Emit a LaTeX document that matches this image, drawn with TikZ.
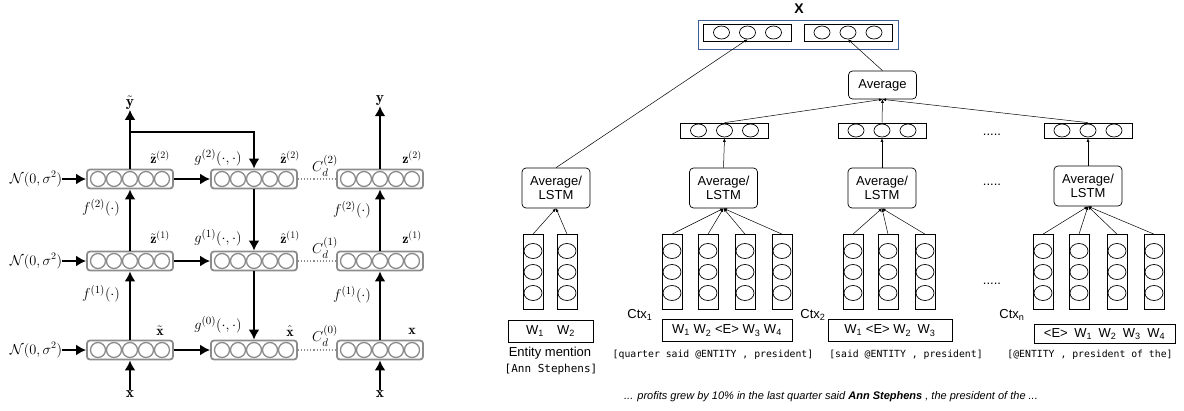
\documentclass[tikz,border=0pt]{standalone}
\usepackage{amsmath,amssymb}
\usepackage{fontspec}
\newfontfamily\arialfont{Liberation Sans}
\newfontfamily\codefont{DejaVu Sans Mono}
\usepackage{tikz}
\usetikzlibrary{arrows.meta,positioning,calc,shapes.geometric}
\definecolor{layergray}{RGB}{140,140,140}
\definecolor{xblue}{RGB}{62,92,150}

\begin{document}
\begin{tikzpicture}[x=1pt,y=-1pt,
 layer/.style={draw=layergray,line width=1.8pt,rounded corners=3pt,
               minimum width=86pt,minimum height=19pt,inner sep=0pt},
 unit/.style={circle,draw=layergray,line width=1.3pt,fill=white,
              minimum size=15pt,inner sep=0pt},
 fat/.style={-{Latex[length=10pt,width=11pt]},line width=2.6pt},
 dotlink/.style={draw=layergray,dotted,line width=1.1pt},
 lbl/.style={inner sep=0pt,font=\fontsize{15.5}{17}\selectfont},
 zlbl/.style={inner sep=0pt,font=\fontsize{14}{16}\selectfont},
 vec/.style={draw,line width=0.7pt,minimum width=88pt,minimum height=16pt,inner sep=0pt},
 cell/.style={ellipse,draw,line width=0.7pt,minimum width=16pt,minimum height=13pt,inner sep=0pt},
 wcol/.style={draw,line width=0.7pt,minimum width=20pt,minimum height=75pt,inner sep=0pt},
 agg/.style={draw,rounded corners=4pt,line width=0.7pt,minimum width=68pt,
             minimum height=40pt,align=center,inner sep=1pt,
             font=\arialfont\fontsize{13}{14}\selectfont},
 wbox/.style={draw,line width=0.7pt,minimum height=22pt,inner sep=0pt,
              font=\arialfont\fontsize{13}{14}\selectfont},
 rtxt/.style={inner sep=0pt,font=\arialfont\fontsize{13}{15}\selectfont},
 code/.style={inner sep=0pt,font=\codefont\fontsize{9.8}{11}\selectfont},
 link/.style={-{Latex[length=3.5pt,width=3pt]},line width=0.5pt}]
 \useasboundingbox (0,0) rectangle (1184,410);

 % ladder network (left)
 \foreach \n/\px/\py in {a0/130/350,a1/130/261,a2/130/179,
                         b0/254/350,b1/254/261,b2/254/179,
                         c0/380/350,c1/380/261,c2/380/179} {
   \node[layer] (\n) at (\px,\py) {};
   \foreach \k in {-2,...,2}
     \node[unit] (\n-\k) at ($(\n)+(\k*16,0)$) {};
 }
 \foreach \r/\py in {0/350,1/261,2/179}
   \node[lbl,font=\fontsize{14}{16}\selectfont] (noise\r) at (36,\py) {$\mathcal{N}(0,\sigma^2)$};
 \node[lbl] (yt) at (130,103) {$\tilde{\mathbf{y}}$};
 \node[lbl] (yc) at (380,101) {$\mathbf{y}$};
 \node[lbl] (xa) at (130,394) {$\mathbf{x}$};
 \node[lbl] (xc) at (380,394) {$\mathbf{x}$};
 \coordinate (skip) at (254,132);

 \node[zlbl] (za2) at (160,157) {$\tilde{\mathbf{z}}^{(2)}$};
 \node[zlbl] (zb2) at (290,157) {$\hat{\mathbf{z}}^{(2)}$};
 \node[zlbl] (zc2) at (412,157) {$\mathbf{z}^{(2)}$};
 \node[zlbl] (za1) at (160,237) {$\tilde{\mathbf{z}}^{(1)}$};
 \node[zlbl] (zb1) at (290,237) {$\hat{\mathbf{z}}^{(1)}$};
 \node[zlbl] (zc1) at (412,237) {$\mathbf{z}^{(1)}$};
 \node[zlbl] (za0) at (160,331) {$\tilde{\mathbf{x}}$};
 \node[zlbl] (zb0) at (290,331) {$\hat{\mathbf{x}}$};
 \node[zlbl] (zc0) at (412,331) {$\mathbf{x}$};
 \node[lbl] (g2) at (218,158) {$g^{(2)}(\cdot,\cdot)$};
 \node[lbl] (g1) at (218,238) {$g^{(1)}(\cdot,\cdot)$};
 \node[lbl] (g0) at (218,325) {$g^{(0)}(\cdot,\cdot)$};
 \node[lbl] (cd2) at (325,166) {$C_d^{(2)}$};
 \node[lbl] (cd1) at (325,248) {$C_d^{(1)}$};
 \node[lbl] (cd0) at (325,336) {$C_d^{(0)}$};
 \node[lbl] (fa2) at (101,208) {$f^{(2)}(\cdot)$};
 \node[lbl] (fa1) at (101,294) {$f^{(1)}(\cdot)$};
 \node[lbl] (fc2) at (352,210) {$f^{(2)}(\cdot)$};
 \node[lbl] (fc1) at (352,295) {$f^{(1)}(\cdot)$};

 \foreach \r in {0,1,2} {
   \draw[fat] (noise\r) -- (a\r);
   \draw[fat] (a\r) -- (b\r);
   \draw[dotlink] (b\r) -- (c\r);
 }
 \draw[fat] (xa) -- (a0);
 \draw[fat] (a0) -- (a1);
 \draw[fat] (a1) -- (a2);
 \draw[fat] (a2) -- (yt);
 \draw[fat] (a2.north |- skip) -- (skip) -- (b2);
 \draw[fat] (b2) -- (b1);
 \draw[fat] (b1) -- (b0);
 \draw[fat] (xc) -- (c0);
 \draw[fat] (c0) -- (c1);
 \draw[fat] (c1) -- (c2);
 \draw[fat] (c2) -- (yc);

 % entity / context encoder (right)
 \node[rtxt,font=\arialfont\bfseries\fontsize{14}{16}\selectfont] (X) at (799,9) {X};
 \node[draw=xblue,line width=0.8pt,minimum width=200pt,minimum height=29pt] (xvec) at (798,34.5) {};
 \node[vec,minimum height=17pt] (mv) at (747.5,32.5) {};
 \node[vec,minimum height=17pt] (cv) at (848,32.5) {};
 \foreach \k in {-1,0,1} {
   \node[cell] (mv\k) at ($(mv)+(\k*26,0)$) {};
   \node[cell] (cv\k) at ($(cv)+(\k*26,0)$) {};
 }
 \node[agg,minimum height=28pt] (avg) at (882.5,85) {Average};
 \foreach \n/\px in {v1/724.5,v2/882,vn/1088} {
   \node[vec,minimum height=15pt] (\n) at (\px,130.5) {};
   \foreach \k in {-1,0,1}
     \node[cell] (\n\k) at ($(\n)+(\k*26,0)$) {};
 }
 \node[agg] (alE) at (556,188) {Average/\\LSTM};
 \node[agg] (al1) at (723.5,188) {Average/\\LSTM};
 \node[agg] (al2) at (882,188) {Average/\\LSTM};
 \node[agg] (aln) at (1088,186) {Average/\\LSTM};
 \foreach \n/\px in {e1/533,e2/567,
                     p1/672,p2/708,p3/745,p4/782,
                     q1/853,q2/888,q3/925,
                     r1/1043,r2/1079,r3/1117,r4/1154} {
   \node[wcol] (\n) at (\px,272) {};
   \foreach \k in {-1,0,1}
     \node[cell,minimum width=18pt,minimum height=15pt] (\n\k) at ($(\n)+(0,\k*21)$) {};
 }
 \node[wbox,minimum width=85pt] (wE) at (550.5,331) {W\textsubscript{1}\quad W\textsubscript{2}};
 \node[wbox,minimum width=130pt] (w1) at (727,330.5) {W\textsubscript{1} W\textsubscript{2} <E> W\textsubscript{3} W\textsubscript{4}};
 \node[wbox,minimum width=124pt] (w2) at (890,330.5) {W\textsubscript{1} <E> W\textsubscript{2}\enspace W\textsubscript{3}};
 \node[wbox,minimum width=141pt,minimum height=19pt] (wn) at (1104.5,334) {<E>\enspace W\textsubscript{1}\enspace W\textsubscript{2}\enspace W\textsubscript{3}\enspace W\textsubscript{4}};
 \node[rtxt] (ctx1) at (640,315) {Ctx\textsubscript{1}};
 \node[rtxt] (ctx2) at (813,315) {Ctx\textsubscript{2}};
 \node[rtxt] (ctxn) at (1012,315) {Ctx\textsubscript{n}};
 \node[rtxt] (ment) at (550,353) {Entity mention};
 \node[code,font=\codefont\fontsize{11}{13}\selectfont] (mtok) at (551,369) {[Ann Stephens]};
 \node[code] (tok1) at (713,355) {[quarter said @ENTITY , president]};
 \node[code] (tok2) at (906,355) {[said @ENTITY , president]};
 \node[code] (tokn) at (1090,355) {[@ENTITY , president of the]};
 \node[rtxt,font=\arialfont\itshape\fontsize{11}{13}\selectfont] (sent) at (831,397)
   {... profits grew by 10\% in the last quarter said \textbf{Ann Stephens} , the president of the ...};
 \node[rtxt,anchor=base] (dv) at (992,135) {.....};
 \node[rtxt,anchor=base] (da) at (992,185) {.....};
 \node[rtxt,anchor=base] (dw) at (992,284) {.....};

 \draw[link] (alE.north) -- (mv0.south);
 \draw[link] (avg.north) -- (cv0.south);
 \foreach \n in {v1,v2,vn}
   \draw[link] (\n.north) -- (avg.south);
 \draw[link] (al1.north) -- (v1.south);
 \draw[link] (al2.north) -- (v2.south);
 \draw[link] (aln.north) -- (vn.south);
 \foreach \n in {e1,e2} \draw[link] (\n.north) -- (alE.south);
 \foreach \n in {p1,p2,p3,p4} \draw[link] (\n.north) -- (al1.south);
 \foreach \n in {q1,q2,q3} \draw[link] (\n.north) -- (al2.south);
 \foreach \n in {r1,r2,r3,r4} \draw[link] (\n.north) -- (aln.south);
\end{tikzpicture}
\end{document}
